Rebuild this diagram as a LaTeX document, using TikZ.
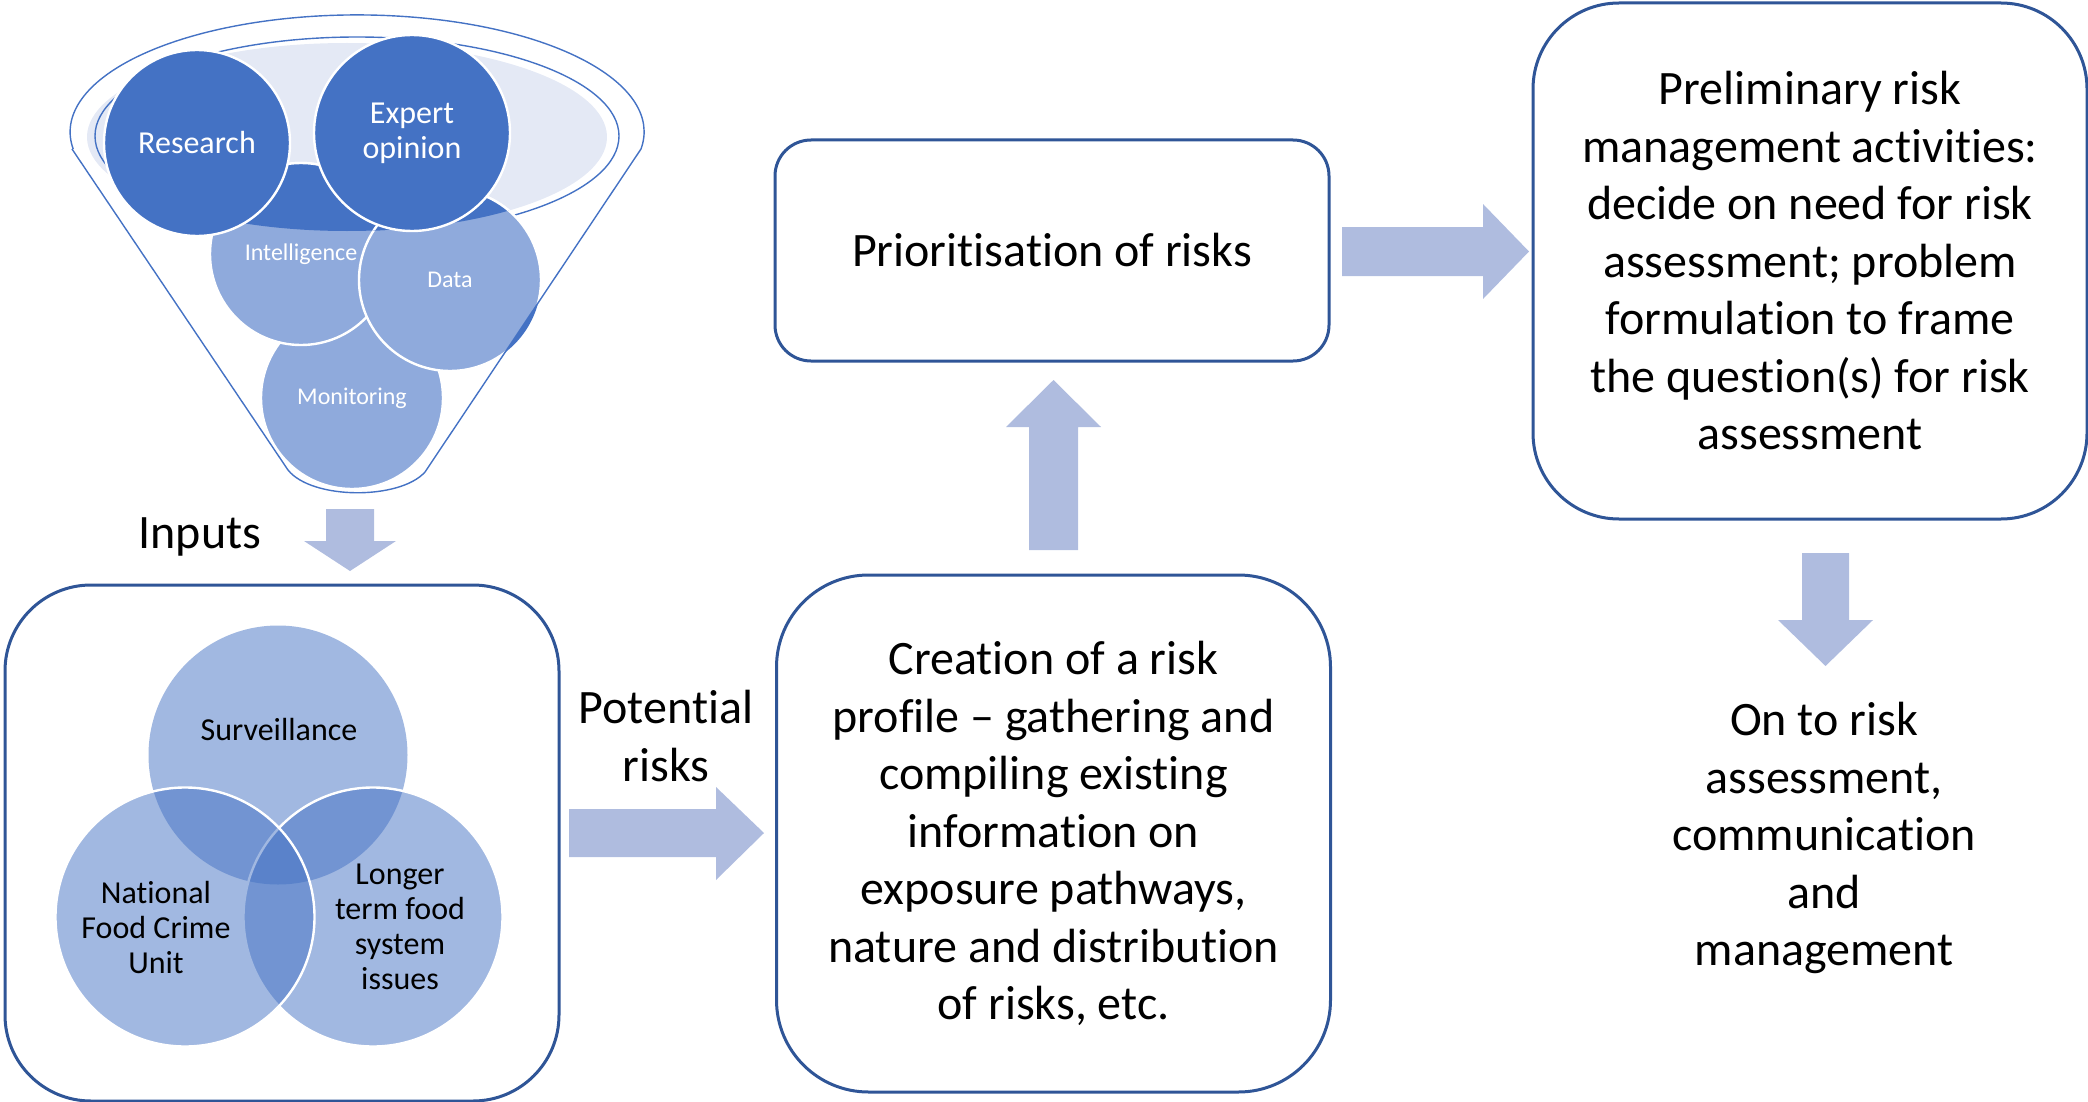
\documentclass[tikz,border=0pt]{standalone}
\usepackage{fontspec}
\setmainfont{Carlito}[Ligatures={NoCommon,NoContextual}]
\definecolor{boxblue}{RGB}{47,85,151}
\definecolor{arrowblue}{RGB}{175,188,223}
\definecolor{darkblue}{RGB}{68,114,196}
\definecolor{midblue}{RGB}{143,170,220}
\definecolor{paleblue}{RGB}{228,233,245}

\begin{document}
\begin{tikzpicture}[x=0.5pt,y=-0.5pt,
	roundbox/.style={draw=boxblue, line width=1.5pt, fill=white, align=center, inner sep=0pt, minimum width=277pt, font=\fontsize{24}{28.75}\selectfont},
	bigtext/.style={align=center, font=\fontsize{24}{28.75}\selectfont},
	blockarrow/.style={fill=arrowblue},
	rim/.style={draw=darkblue, line width=0.7pt},
	ball/.style={circle, draw=white, line width=1.2pt, inner sep=0pt, align=center, text=white},
	vennball/.style={circle, fill=darkblue, fill opacity=0.5, inner sep=0pt, minimum size=129.5pt},
	venntext/.style={align=center, font=\fontsize{16}{17.5}\selectfont}]
	\useasboundingbox (0,0) rectangle (2088,1102);
	%\draw[help lines] (0,0) grid[step=100] (2088,1102);

	% funnel
	\fill[paleblue] (347,137) ellipse [x radius=260, y radius=94];
	\draw[rim] (357,136) ellipse [x radius=262, y radius=99];
	\node[ball, fill=midblue, minimum size=91pt, font=\fontsize{12}{14}\selectfont] (monitoring) at (352,398) {Monitoring};
	\node[ball, fill=midblue, minimum size=91pt, font=\fontsize{12}{14}\selectfont] (intelligence) at (301,254) {Intelligence};
	\fill[darkblue] (450,280) circle [radius=91];
	\begin{scope}
		\clip (72,0) -- (72,149) -- (288,470) -- (425,472) -- (641,149) -- (641,0) -- cycle;
		\node[ball, fill=midblue, minimum size=91pt, font=\fontsize{12}{14}\selectfont] (data) at (450,280) {Data};
	\end{scope}
	\begin{scope}
		\clip (347,137) ellipse [x radius=260, y radius=94];
		\draw[draw=white, line width=1.2pt, fill=darkblue] (monitoring.center) circle [radius=91];
		\draw[draw=white, line width=1.2pt, fill=darkblue] (intelligence.center) circle [radius=91];
		\draw[draw=white, line width=1.2pt, fill=darkblue] (data.center) circle [radius=91];
	\end{scope}
	\draw[rim] (72,149) -- (288,470) .. controls (312,500) and (400,500) .. (425,472) -- (641,149)
		arc [start angle=8.4, end angle=-188.4, x radius=287, y radius=117];
	\node[ball, fill=darkblue, minimum size=93pt, font=\fontsize{16}{17.5}\selectfont] (research) at (197,143) {Research};
	\node[ball, fill=darkblue, minimum size=98pt, font=\fontsize{16}{17.5}\selectfont] (expert) at (412,133) {Expert\\opinion};
	\node[bigtext] (inputs) at (200,537) {Inputs};
	\fill[blockarrow] (326,509) -- (374,509) -- (374,541) -- (396,541) -- (350,571) -- (304,541) -- (326,541) -- cycle;

	% venn box
	\node[roundbox, minimum height=258pt, rounded corners=43pt] (vennbox) at (282,843) {};
	\node[vennball] (surveillance) at (278,755) {};
	\node[vennball, draw=white, draw opacity=1, line width=1.2pt] (longer) at (373,917) {};
	\node[vennball, draw=white, draw opacity=1, line width=1.2pt] (national) at (185,917) {};
	\node[venntext] (surveillancetext) at (279,729) {Surveillance};
	\node[venntext] (nationaltext) at (156,927) {National\\Food Crime\\Unit};
	\node[venntext] (longertext) at (400,927) {Longer\\term food\\system\\issues};

	\node[bigtext] (potential) at (666,736) {Potential\\risks};
	\fill[blockarrow] (569,809) -- (716,809) -- (716,787) -- (764,833) -- (716,880) -- (716,857) -- (569,857) -- cycle;

	% middle column
	\node[roundbox, minimum height=258.5pt, rounded corners=46pt] (creation) at (1053.5,833.5) {Creation of a risk\\profile -- gathering and\\compiling existing\\information on\\exposure pathways,\\nature and distribution\\of risks, etc.};
	\fill[blockarrow] (1029,550) -- (1029,427) -- (1006,427) -- (1053.5,380) -- (1101,427) -- (1078,427) -- (1078,550) -- cycle;
	\node[roundbox, minimum height=110.5pt, rounded corners=18pt] (prio) at (1052,250.5) {Prioritisation of risks};
	\fill[blockarrow] (1342,227) -- (1483,227) -- (1483,204) -- (1529,251.5) -- (1483,299) -- (1483,276) -- (1342,276) -- cycle;

	% right column
	\node[roundbox, minimum height=258pt, rounded corners=43pt] (prelim) at (1810,261) {Preliminary risk\\management activities:\\decide on need for risk\\assessment; problem\\formulation to frame\\the question(s) for risk\\assessment};
	\fill[blockarrow] (1802,553) -- (1849,553) -- (1849,620) -- (1873,620) -- (1825.5,666) -- (1778,620) -- (1802,620) -- cycle;
	\node[bigtext] (onto) at (1824,838) {On to risk\\assessment,\\communication\\and\\management};
\end{tikzpicture}
\end{document}
